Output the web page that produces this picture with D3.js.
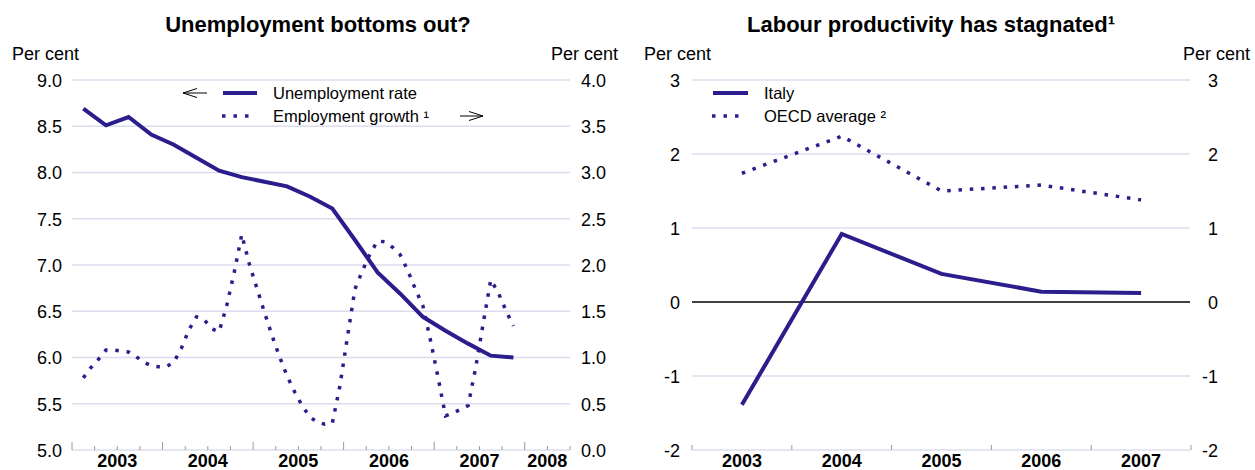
<!DOCTYPE html>
<html><head><meta charset="utf-8">
<script src="https://cdn.jsdelivr.net/npm/d3@7"></script>
<style>
body{margin:0;background:#fff;}
text{font-family:"Liberation Sans",Arial,Helvetica,sans-serif;fill:#000;}
</style></head>
<body><svg id="c" width="1255" height="470"></svg>
<script>
// ---------- Data ----------
// Left panel: quarterly unemployment rate (left axis), 2003Q1..2007Q4
const unempQuarters = ["2003Q1","2003Q2","2003Q3","2003Q4","2004Q1","2004Q2","2004Q3","2004Q4",
  "2005Q1","2005Q2","2005Q3","2005Q4","2006Q1","2006Q2","2006Q3","2006Q4",
  "2007Q1","2007Q2","2007Q3","2007Q4"];
const unempRate = [8.69,8.51,8.60,8.41,8.30,8.16,8.02,7.95,7.90,7.85,7.74,7.61,7.27,6.92,6.69,6.44,6.29,6.15,6.02,6.00];
// Monthly employment growth (right axis), Feb 2003 .. Nov 2007
const empStart = "2003-02";
const empGrowth = [0.78,0.89,0.98,1.08,1.08,1.07,1.06,1.01,0.95,0.91,0.90,
  0.90,0.95,1.10,1.30,1.44,1.41,1.31,1.28,1.56,1.92,2.33,2.01,
  1.75,1.49,1.24,1.01,0.80,0.63,0.48,0.36,0.30,0.28,0.29,0.69,
  1.22,1.74,1.94,2.12,2.26,2.25,2.19,2.11,1.94,1.74,1.56,1.19,
  0.79,0.37,0.40,0.44,0.48,0.89,1.37,1.84,1.70,1.51,1.34];
const leftYears = ["2003","2004","2005","2006","2007","2008"];
const leftTicksL = [5.0,5.5,6.0,6.5,7.0,7.5,8.0,8.5,9.0];
const leftTicksR = [0.0,0.5,1.0,1.5,2.0,2.5,3.0,3.5,4.0];

// Right panel: annual labour productivity growth
const prodYears = ["2003","2004","2005","2006","2007"];
const italy = [-1.39,0.92,0.38,0.14,0.12];
const oecd = [1.74,2.24,1.50,1.58,1.38];
const rightTicks = [-2,-1,0,1,2,3];

// ---------- Styles ----------
const lineColor = "#2b1d8c";
const gridColor = "#dcdcef";
const tickColor = "#9a9a9a";
const svg = d3.select("#c");
const intFmt = d => String(d); // plain hyphen minus, as in the reference

// ---------- Left panel ----------
const L = {x0:72, x1:570, y0:450, y1:80};
const xL = d3.scaleLinear().domain([2003, 2008.5]).range([L.x0, L.x1]);
const yL = d3.scaleLinear().domain([5, 9]).range([L.y0, L.y1]);
const yR = d3.scaleLinear().domain([0, 4]).range([L.y0, L.y1]);

const qDate = q => +q.slice(0,4) + (+q.slice(5)-0.5)/4;
const [sy, sm] = empStart.split("-").map(Number);
const mDate = i => sy + (sm - 1 + i + 0.5)/12;

const gL = svg.append("g");
gL.selectAll("line.grid").data(leftTicksL).join("line")
  .attr("x1", L.x0).attr("x2", L.x1)
  .attr("y1", d=>yL(d)).attr("y2", d=>yL(d))
  .attr("stroke", gridColor).attr("stroke-width", 1.5);
gL.append("g").attr("transform", `translate(${L.x0-8},0)`)
  .call(d3.axisLeft(yL).tickValues(leftTicksL).tickFormat(d3.format(".1f")).tickSize(0).tickPadding(2))
  .call(g=>g.select(".domain").remove())
  .call(g=>g.selectAll("text").attr("font-size",18).attr("font-family","Liberation Sans, Arial").attr("fill","#000").attr("dy","0.35em"));
gL.append("g").attr("transform", `translate(${L.x1+9},0)`)
  .call(d3.axisRight(yR).tickValues(leftTicksR).tickFormat(d3.format(".1f")).tickSize(0).tickPadding(2))
  .call(g=>g.select(".domain").remove())
  .call(g=>g.selectAll("text").attr("font-size",18).attr("font-family","Liberation Sans, Arial").attr("fill","#000").attr("dy","0.35em"));
const qTicks = d3.range(0, 23).map(i => 2003 + i/4);
gL.selectAll("line.xt").data(qTicks).join("line")
  .attr("x1", d=>xL(d)).attr("x2", d=>xL(d))
  .attr("y1", L.y0).attr("y2", d => Number.isInteger(d) ? L.y0-8 : L.y0-4)
  .attr("stroke", tickColor).attr("stroke-width", 1);
gL.selectAll("text.yr").data(leftYears).join("text")
  .attr("x", d => Math.min(xL(+d + 0.5), xL(+d) + (L.x1 - xL(+d))/2))
  .attr("y", 467).attr("text-anchor","middle")
  .attr("font-size",18).attr("font-weight","bold").text(d=>d);
gL.append("text").attr("x",12).attr("y",60).attr("font-size",18).text("Per cent");
gL.append("text").attr("x",551).attr("y",60).attr("font-size",18).text("Per cent");
gL.append("text").attr("x",318).attr("y",32).attr("text-anchor","middle")
  .attr("font-size",22).attr("font-weight","bold").text("Unemployment bottoms out?");

const lineU = d3.line().x((d,i)=>xL(qDate(unempQuarters[i]))).y(d=>yL(d));
gL.append("path").datum(unempRate).attr("d", lineU)
  .attr("fill","none").attr("stroke",lineColor).attr("stroke-width",4).attr("stroke-linejoin","miter");
const lineE = d3.line().x((d,i)=>xL(mDate(i))).y(d=>yR(d));
gL.append("path").datum(empGrowth).attr("d", lineE)
  .attr("fill","none").attr("stroke",lineColor).attr("stroke-width",3.5)
  .attr("stroke-dasharray","3.5,7.8");

const lg = gL.append("g");
function arrow(g, x0, x1, y, dir){
  const tip = dir<0 ? x0 : x1;
  const back = tip - dir*14;
  g.append("path").attr("d", `M${x0},${y}H${x1}M${back},${y-4.5}L${tip},${y}L${back},${y+4.5}`)
   .attr("fill","none").attr("stroke","#000").attr("stroke-width",1);
}
arrow(lg, 183, 207, 93, -1);
lg.append("line").attr("x1",223).attr("x2",257).attr("y1",93).attr("y2",93)
  .attr("stroke",lineColor).attr("stroke-width",4);
lg.append("text").attr("x",273).attr("y",99).attr("font-size",16.5).text("Unemployment rate");
lg.append("line").attr("x1",222).attr("x2",252).attr("y1",116).attr("y2",116)
  .attr("stroke",lineColor).attr("stroke-width",3.5).attr("stroke-dasharray","3.5,8");
lg.append("text").attr("x",273).attr("y",122).attr("font-size",16.5).text("Employment growth ¹");
arrow(lg, 460, 483, 116, 1);

// ---------- Right panel ----------
const R = {x0:692, x1:1191, y0:450, y1:80};
const xP = d3.scaleBand().domain(prodYears).range([R.x0, R.x1]);
const yP = d3.scaleLinear().domain([-2, 3]).range([R.y0, R.y1]);
const gR = svg.append("g");
gR.selectAll("line.grid").data(rightTicks).join("line")
  .attr("x1", R.x0).attr("x2", R.x1-1)
  .attr("y1", d=>yP(d)).attr("y2", d=>yP(d))
  .attr("stroke", d=> d===0 ? "#000" : gridColor).attr("stroke-width", 1.5);
gR.append("g").attr("transform", `translate(${R.x0-10},0)`)
  .call(d3.axisLeft(yP).tickValues(rightTicks).tickFormat(intFmt).tickSize(0).tickPadding(2))
  .call(g=>g.select(".domain").remove())
  .call(g=>g.selectAll("text").attr("font-size",18).attr("font-family","Liberation Sans, Arial").attr("fill","#000").attr("dy","0.35em"));
gR.append("g").attr("transform", `translate(${R.x1+27},0)`)
  .call(d3.axisLeft(yP).tickValues(rightTicks).tickFormat(intFmt).tickSize(0).tickPadding(0))
  .call(g=>g.select(".domain").remove())
  .call(g=>g.selectAll("text").attr("font-size",18).attr("font-family","Liberation Sans, Arial").attr("fill","#000").attr("dy","0.35em"));
const bTicks = prodYears.map(d=>xP(d)).concat([R.x1]);
gR.selectAll("line.xt").data(bTicks).join("line")
  .attr("x1", d=>d).attr("x2", d=>d).attr("y1", R.y0).attr("y2", R.y0-5)
  .attr("stroke", tickColor).attr("stroke-width", 1);
gR.selectAll("text.yr").data(prodYears).join("text")
  .attr("x", d=>xP(d)+xP.bandwidth()/2).attr("y",467).attr("text-anchor","middle")
  .attr("font-size",18).attr("font-weight","bold").text(d=>d);
gR.append("text").attr("x",644).attr("y",60).attr("font-size",18).text("Per cent");
gR.append("text").attr("x",1183).attr("y",60).attr("font-size",18).text("Per cent");
gR.append("text").attr("x",931).attr("y",32).attr("text-anchor","middle")
  .attr("font-size",22).attr("font-weight","bold").text("Labour productivity has stagnated¹");

const lineP = d3.line().x((d,i)=>xP(prodYears[i])+xP.bandwidth()/2).y(d=>yP(d));
gR.append("path").datum(italy).attr("d", lineP)
  .attr("fill","none").attr("stroke",lineColor).attr("stroke-width",4);
gR.append("path").datum(oecd).attr("d", lineP)
  .attr("fill","none").attr("stroke",lineColor).attr("stroke-width",3.5)
  .attr("stroke-dasharray","3.5,7.8");
gR.append("line").attr("x1",713).attr("x2",748).attr("y1",93).attr("y2",93)
  .attr("stroke",lineColor).attr("stroke-width",4);
gR.append("text").attr("x",764).attr("y",99).attr("font-size",16.5).text("Italy");
gR.append("line").attr("x1",712).attr("x2",742).attr("y1",116).attr("y2",116)
  .attr("stroke",lineColor).attr("stroke-width",3.5).attr("stroke-dasharray","3.5,8");
gR.append("text").attr("x",764).attr("y",122).attr("font-size",16.5).text("OECD average ²");
</script></body></html>
